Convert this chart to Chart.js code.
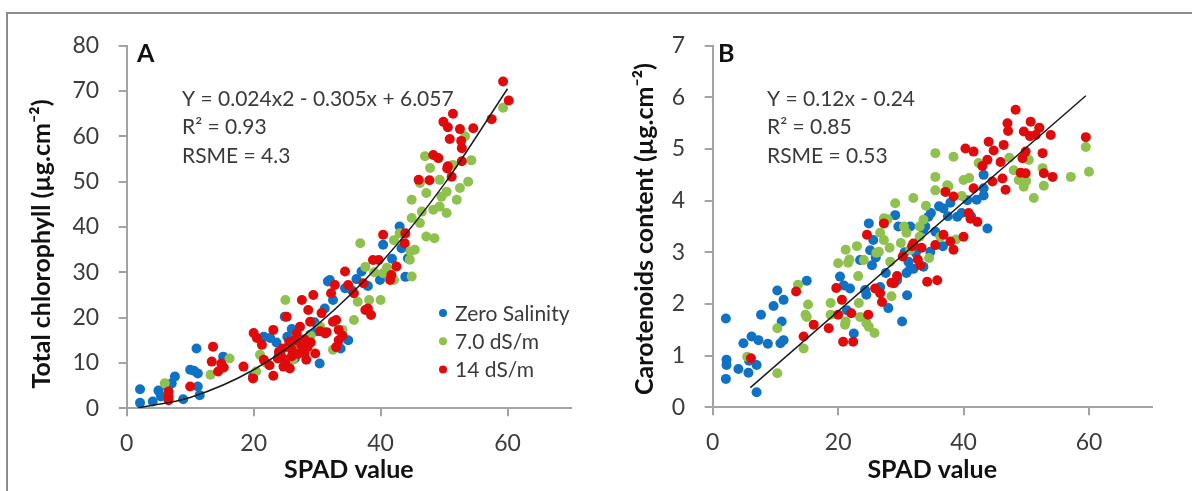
<!DOCTYPE html>
<html>
<head>
<meta charset="utf-8">
<script src="https://cdn.jsdelivr.net/npm/chart.js@4.4.1/dist/chart.umd.min.js"></script>
<style>
  html, body { margin: 0; padding: 0; background: #fff; }
  #page { position: relative; width: 1192px; height: 491px; overflow: hidden; background: #fff; }
  #frame { position: absolute; left: 6px; top: 12px; width: 1250px; height: 520px;
           border-top: 2px solid #8c8c8c; border-left: 2px solid #8c8c8c; }
  .panel { position: absolute; top: 0; width: 596px; height: 491px; }
  canvas { display: block; }
</style>
</head>
<body>
<div id="page">
  <div id="frame"></div>
  <div class="panel" style="left:0"><canvas id="chartA" width="596" height="491"></canvas></div>
  <div class="panel" style="left:596px"><canvas id="chartB" width="596" height="491"></canvas></div>
</div>
<script>
// ---- Series labels and tick values ----
const seriesLabels = ['Zero Salinity', '7.0 dS/m', '14 dS/m'];
const spadTicks = [0, 20, 40, 60];
const chlTicks = [0, 10, 20, 30, 40, 50, 60, 70, 80];
const carTicks = [0, 1, 2, 3, 4, 5, 6, 7];

// ---- Panel A: total chlorophyll vs SPAD, [SPAD, chlorophyll] ----
const chlZero = [[2.1,4.2],[2.1,1.2],[4.1,1.5],[5.0,3.9],[5.4,2.6],[6.5,4.6],[7.1,5.5],[7.6,7.0],[8.9,2.0],[10.0,8.5],
  [10.6,8.3],[11.0,13.2],[11.2,7.7],[11.2,4.8],[11.5,2.9],[15.2,11.4],[19.9,7.0],[21.6,15.8],[22.6,15.5],[23.6,14.5],
  [24.9,20.2],[25.3,15.8],[26.0,17.5],[27.4,13.2],[28.9,16.2],[29.6,19.0],[30.4,9.9],[31.2,22.0],[31.7,28.0],[32.0,28.3],
  [32.5,23.9],[33.7,13.2],[34.4,26.5],[34.9,15.0],[36.2,28.5],[37.0,30.2],[38.0,27.0],[39.9,28.3],[40.4,36.1],[40.7,29.8],
  [41.8,33.0],[43.0,40.1],[43.3,35.3],[43.9,29.0],[44.3,33.1],[24.0,12.0],[26.5,11.0],[28.2,14.5],[30.0,17.0],[35.5,26.0]];
const chl7 = [[6.0,5.5],[13.2,7.4],[16.2,11.0],[20.4,8.1],[21.0,11.8],[22.0,10.0],[25.0,23.9],[26.2,10.7],[27.0,14.0],[29.0,16.0],
  [30.5,18.0],[32.5,12.9],[34.0,17.3],[35.8,19.5],[36.4,23.5],[36.8,36.4],[37.6,31.2],[38.2,23.9],[39.0,30.0],[40.0,23.9],
  [40.4,29.8],[41.0,31.0],[42.1,28.3],[42.1,37.1],[43.0,38.6],[44.6,32.8],[44.7,34.6],[44.9,29.1],[44.9,42.0],[44.9,46.0],
  [45.4,35.0],[46.2,40.9],[46.2,49.7],[46.5,43.4],[47.0,55.6],[47.2,47.5],[47.2,37.9],[47.8,53.0],[48.3,43.8],[48.5,37.5],
  [49.3,44.5],[49.3,50.4],[49.6,46.7],[50.4,47.8],[50.4,43.1],[51.4,53.7],[52.0,46.0],[52.5,48.6],[53.3,60.0],[53.8,50.0],
  [54.3,54.7],[59.3,66.3]];
const chl14 = [[6.6,3.7],[6.6,2.6],[6.6,1.8],[10.0,4.8],[13.4,10.3],[13.6,13.6],[14.4,8.1],[14.9,9.9],[15.3,9.0],[18.4,9.2],
  [19.9,6.6],[20.0,16.6],[20.5,15.5],[21.3,14.0],[21.6,10.7],[22.5,9.5],[23.1,17.3],[23.1,7.2],[23.8,11.0],[24.0,12.5],
  [24.5,11.2],[24.6,13.2],[24.7,9.2],[25.0,10.0],[25.2,20.2],[25.6,14.7],[25.7,8.8],[26.0,13.0],[26.0,11.5],[26.5,15.0],
  [26.8,16.5],[27.0,12.0],[27.3,18.0],[27.5,14.0],[27.6,23.9],[28.0,15.2],[28.0,12.1],[28.3,10.7],[28.5,13.5],[28.6,21.7],
  [28.9,19.1],[29.0,14.5],[29.4,25.0],[29.7,12.1],[30.5,17.0],[30.7,21.0],[31.3,16.5],[31.5,16.8],[32.2,25.4],[32.5,19.1],
  [32.8,27.2],[33.0,13.5],[33.0,19.5],[33.4,17.3],[33.4,15.0],[34.0,16.0],[34.4,30.2],[34.9,27.2],[35.8,25.4],[37.3,27.6],
  [37.6,21.7],[38.0,22.0],[38.5,20.6],[38.8,32.7],[39.7,32.7],[40.4,38.3],[41.5,28.3],[41.7,29.4],[42.5,31.3],[43.8,36.4],
  [43.9,38.6],[46.0,50.4],[47.7,50.3],[48.3,55.9],[49.1,55.2],[49.9,63.2],[50.6,62.0],[50.5,52.9],[50.6,53.4],[50.9,59.4],
  [51.2,51.1],[51.4,65.0],[52.5,61.6],[52.7,59.0],[52.8,57.4],[52.8,54.5],[54.6,61.8],[57.5,63.8],[59.3,72.1],[60.2,67.9]];
// fitted curve, read along its length
const chlFitX = [1.8, 10, 20, 30, 40, 50, 60];
const chlFitY = [0.1, 2.4, 8.5, 18.4, 32.0, 49.4, 70.5];
const chlStats = ['Y = 0.024x2 - 0.305x + 6.057', 'R\u00B2 = 0.93', 'RSME = 4.3'];

// ---- Panel B: carotenoids vs SPAD, [SPAD, carotenoids] ----
const carZero = [[2.1,1.72],[2.2,0.92],[2.2,0.82],[2.1,0.55],[4.1,0.74],[4.9,1.24],[5.7,0.67],[5.8,0.9],[6.2,1.37],[7.0,0.82],
  [7.0,0.29],[7.3,1.3],[7.7,1.79],[8.8,1.23],[9.7,1.96],[10.3,2.26],[10.8,1.24],[11.0,1.66],[11.3,2.08],[11.3,1.3],
  [15.0,2.45],[20.3,2.53],[20.9,2.36],[21.4,1.88],[21.9,2.3],[22.5,1.43],[23.5,2.85],[24.5,2.18],[24.9,3.56],[25.1,3.04],
  [25.4,2.75],[25.6,3.24],[27.6,2.6],[28.0,1.92],[29.1,3.72],[29.6,3.5],[30.2,1.66],[30.9,2.6],[31.0,2.17],[31.2,2.82],
  [31.5,3.5],[31.5,2.68],[32.0,2.68],[32.4,2.99],[33.6,3.44],[33.9,3.5],[34.4,3.69],[34.8,3.76],[36.1,3.89],[36.7,3.12],
  [36.8,3.85],[37.9,3.96],[39.0,3.69],[39.7,3.76],[40.6,4.01],[41.2,3.7],[42.1,4.02],[43.2,4.5],[43.2,4.24],[43.2,4.1],[43.8,3.46],
  [26.7,2.33],[24.3,2.27],[29.4,2.46],[33.6,2.72],[34.7,3.01],[35.5,3.4],[37.5,3.7],[30.6,3.0],[26.0,2.9]];
const car7 = [[5.5,0.98],[10.3,1.53],[10.3,0.66],[13.6,2.37],[14.5,1.14],[14.8,1.79],[15.2,1.99],[18.8,1.79],[18.8,2.02],[20.0,2.79],
  [21.2,3.05],[21.2,1.66],[21.8,2.86],[23.0,3.12],[23.2,2.54],[23.3,2.02],[23.5,1.75],[24.5,1.63],[25.8,1.44],[26.1,2.99],
  [26.7,3.38],[27.3,3.57],[27.9,3.64],[28.2,3.09],[28.5,2.15],[29.1,3.95],[30.0,3.18],[30.9,3.38],[31.5,3.05],[32.0,4.05],
  [33.0,3.5],[33.6,3.63],[34.5,2.89],[35.5,4.92],[35.5,4.46],[35.5,4.2],[36.3,3.3],[37.4,4.3],[37.6,4.28],[38.4,4.85],
  [38.8,3.25],[39.7,4.09],[40.0,4.4],[40.9,4.44],[42.4,4.73],[47.3,4.83],[48.0,4.59],[48.8,4.4],[49.6,4.27],[50.0,4.38],
  [50.4,4.79],[51.2,4.05],[52.0,5.4],[52.6,4.63],[52.8,4.29],[57.1,4.46],[59.5,5.04],[60.0,4.56],
  [27.3,3.66],[21.6,2.8],[24.1,2.85],[26.5,3.01],[27.3,3.24],[28.3,2.82],[15.0,1.75],[21.1,1.6],[24.9,1.56],[30.5,3.5],
  [33.0,3.3],[34.0,3.9]];
const car14 = [[6.1,0.95],[13.3,2.24],[14.5,1.37],[16.1,1.6],[18.5,1.53],[19.7,2.31],[20.0,1.79],[20.6,2.08],[20.8,1.27],[22.1,1.82],
  [22.4,1.27],[24.6,3.34],[24.8,1.79],[25.9,2.3],[26.7,2.21],[27.0,2.04],[27.3,3.56],[28.5,2.41],[28.9,2.4],[29.4,2.54],
  [30.3,2.92],[31.8,3.12],[32.0,3.17],[32.7,2.86],[33.1,2.75],[33.3,3.09],[34.2,2.43],[35.5,3.14],[35.8,2.46],[36.8,3.34],
  [37.1,4.17],[37.9,3.21],[38.4,4.08],[38.4,3.05],[40.0,3.3],[40.3,5.01],[40.8,3.76],[41.1,3.65],[41.6,4.95],[41.6,4.24],
  [42.2,3.59],[43.0,4.67],[43.8,4.79],[44.0,5.14],[44.6,4.37],[44.8,4.97],[45.9,4.75],[46.2,4.43],[46.4,5.08],[46.7,4.21],
  [47.0,5.5],[47.1,5.35],[48.3,5.76],[49.1,4.54],[49.4,4.82],[49.6,5.34],[49.9,4.95],[49.9,4.53],[50.6,5.25],[50.7,5.53],
  [51.5,5.27],[52.1,5.41],[52.6,4.92],[52.8,4.53],[53.9,5.27],[54.2,4.46],[59.5,5.23]];
// fitted line, read at its two ends
const carFitX = [6.0, 59.5];
const carFitY = [0.38, 6.03];
const carStats = ['Y = 0.12x - 0.24', 'R\u00B2 = 0.85', 'RSME = 0.53'];

// ---- Styling ----
const FONT = 'Lato, "Open Sans", sans-serif';
const AXIS = '#a3a3a3';
const TICK_TXT = '#3c3c3c';
const COLORS = ['#0f72c4', '#8fc14e', '#e10a0a'];

const toPts = arr => arr.map(([x, y]) => ({ x, y }));
const zipPts = (xs, ys) => xs.map((x, i) => ({ x, y: ys[i] }));

// Panel letter, regression statistics, rotated y title and an inset legend
const panelText = {
  id: 'panelText',
  afterDraw(chart, args, o) {
    const ctx = chart.ctx;
    ctx.save();
    ctx.textBaseline = 'middle';
    ctx.textAlign = 'left';
    ctx.fillStyle = '#111';
    ctx.font = 'bold 25px ' + FONT;
    ctx.fillText(o.letter, o.letterX, o.letterY);

    ctx.fillStyle = '#3a3a3a';
    ctx.font = '21px ' + FONT;
    o.stats.forEach((s, i) => ctx.fillText(s, o.statsX, o.statsY + i * o.statsStep));

    ctx.save();
    ctx.translate(o.yTitleX, o.yTitleY);
    ctx.rotate(-Math.PI / 2);
    ctx.textAlign = 'center';
    ctx.fillStyle = '#111';
    ctx.font = 'bold 25px ' + FONT;
    ctx.fillText(o.yTitle, 0, 0);
    ctx.restore();

    if (o.legend) {
      ctx.font = '21px ' + FONT;
      seriesLabels.forEach((lab, i) => {
        const ds = chart.data.datasets[i];
        const y = o.legendY + i * o.legendStep;
        ctx.beginPath();
        ctx.arc(o.legendX, y, 4, 0, Math.PI * 2);
        ctx.fillStyle = ds.backgroundColor;
        ctx.fill();
        ctx.fillStyle = '#3a3a3a';
        ctx.fillText(lab, o.legendX + 12, y + 1);
      });
    }
    ctx.restore();
  }
};

function scatterSet(label, data, color, order) {
  return { type: 'scatter', label, data: toPts(data), backgroundColor: color, borderWidth: 0,
           pointRadius: 5, pointHoverRadius: 5, order };
}
function fitSet(data) {
  return { type: 'line', label: 'fit', data, borderColor: '#1c1c1c', borderWidth: 1.5, pointRadius: 0,
           cubicInterpolationMode: 'monotone', fill: false, order: 0 };
}

function axisScales(o) {
  const grid = { drawOnChartArea: false, drawTicks: true, tickLength: 8, color: AXIS, lineWidth: 2 };
  const border = { display: true, color: AXIS, width: 2 };
  return {
    x: {
      type: 'linear', min: 0, max: 70,
      afterBuildTicks: s => { s.ticks = spadTicks.map(v => ({ value: v })); },
      afterFit: s => { s.height = o.xH; },
      grid, border,
      ticks: { color: TICK_TXT, font: { family: FONT, size: 23 }, padding: 13, maxRotation: 0, autoSkip: false },
      title: { display: true, text: 'SPAD value', color: '#111',
               font: { family: FONT, size: 25, weight: 'bold' }, padding: { top: 0, bottom: 6 } }
    },
    y: {
      type: 'linear', min: 0, max: o.yTicks[o.yTicks.length - 1],
      afterBuildTicks: s => { s.ticks = o.yTicks.map(v => ({ value: v })); },
      afterFit: s => { s.width = o.yW; },
      grid, border,
      ticks: { color: TICK_TXT, font: { family: FONT, size: 23 }, padding: 19.5, autoSkip: false }
    }
  };
}

function build(id, sets, fit, o, text) {
  return new Chart(document.getElementById(id), {
    type: 'scatter',
    data: { datasets: [
      scatterSet(seriesLabels[0], sets[0], COLORS[0], 3),
      scatterSet(seriesLabels[1], sets[1], COLORS[1], 2),
      scatterSet(seriesLabels[2], sets[2], COLORS[2], 1),
      fitSet(fit)
    ] },
    options: {
      responsive: false, animation: false, events: [],
      layout: { padding: { left: 0, top: o.top, right: o.right, bottom: 0 } },
      scales: axisScales(o),
      plugins: { legend: { display: false }, tooltip: { enabled: false }, panelText: text }
    },
    plugins: [panelText]
  });
}

build('chartA', [chlZero, chl7, chl14], zipPts(chlFitX, chlFitY),
  { yTicks: chlTicks, yW: 126.7, xH: 82.7, top: 45.7, right: 25 },
  { letter: 'A', letterX: 137, letterY: 54, stats: chlStats, statsX: 182, statsY: 99, statsStep: 28.5,
    yTitle: 'Total chlorophyll (\u00B5g.cm\u207B\u00B2)', yTitleX: 42, yTitleY: 244,
    legend: true, legendX: 443, legendY: 313, legendStep: 28.3 });

build('chartB', [carZero, car7, car14], zipPts(carFitX, carFitY),
  { yTicks: carTicks, yW: 116.7, xH: 83.7, top: 45.7, right: 40.3 },
  { letter: 'B', letterX: 122, letterY: 54, stats: carStats, statsX: 171, statsY: 99, statsStep: 28.5,
    yTitle: 'Carotenoids content (\u00B5g.cm\u207B\u00B2)', yTitleX: 49, yTitleY: 229,
    legend: false });
</script>
</body>
</html>
